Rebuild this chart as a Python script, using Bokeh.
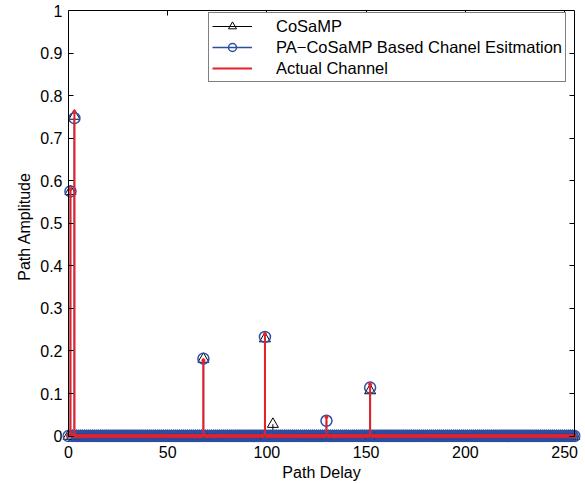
import numpy as np
from bokeh.plotting import figure
from bokeh.models import Range1d, LinearAxis, FixedTicker, Legend, LegendItem
from bokeh.embed import file_html
from bokeh.resources import INLINE

# ---- channel taps (path delay index -> amplitude) ----
n_taps = 256
delays = np.arange(n_taps)

actual_pos = [1, 3, 68, 99, 130, 152]
actual_amp = [0.58, 0.762, 0.178, 0.24, 0.045, 0.122]

cosamp_pos = [1, 3, 68, 99, 103, 152]
cosamp_amp = [0.575, 0.752, 0.181, 0.229, 0.028, 0.107]

pacosamp_pos = [1, 3, 68, 99, 130, 152]
pacosamp_amp = [0.575, 0.747, 0.182, 0.233, 0.036, 0.114]

x_ticks = [0, 50, 100, 150, 200, 250]
y_ticks = [0, 0.1, 0.2, 0.3, 0.4, 0.5, 0.6, 0.7, 0.8, 0.9, 1]
y_tick_labels = ["0", "0.1", "0.2", "0.3", "0.4", "0.5", "0.6", "0.7", "0.8", "0.9", "1"]

x_lim = (0, 255)
y_lim = (0, 1)

FONT = "Liberation Sans"
BLUE = "#2c4ea3"
RED = "#e8202a"


def sparse_response(pos, amp):
    h = np.zeros(n_taps)
    h[pos] = amp
    return h


h_actual = sparse_response(actual_pos, actual_amp)
h_cosamp = sparse_response(cosamp_pos, cosamp_amp)
h_pacosamp = sparse_response(pacosamp_pos, pacosamp_amp)

# the frame is a little larger than the axes box so that markers sitting on
# the box edges are drawn whole instead of being cut in half
p = figure(width=585, height=483,
           x_range=Range1d(x_lim[0] - 3, x_lim[1] + 3),
           y_range=Range1d(y_lim[0] - 0.015, y_lim[1]),
           output_backend="svg", toolbar_location=None,
           min_border_left=62, min_border_right=5, min_border_top=10, min_border_bottom=39)
p.xaxis.visible = False
p.yaxis.visible = False
p.grid.visible = False
p.outline_line_color = None
p.background_fill_color = "white"
p.border_fill_color = "white"


def make_axis(ticks, show_labels=True, show_line=True):
    ax = LinearAxis(ticker=FixedTicker(ticks=ticks))
    ax.major_tick_in = 5
    ax.major_tick_out = 0
    ax.minor_tick_line_color = None
    ax.axis_line_color = "black" if show_line else None
    ax.axis_line_width = 1
    ax.major_tick_line_color = "black" if show_line else None
    ax.major_tick_line_width = 1
    ax.major_label_text_font = FONT
    ax.major_label_text_font_size = "16px"
    ax.major_label_text_color = "black" if show_labels else None
    ax.axis_label_text_font = FONT
    ax.axis_label_text_font_style = "normal"
    ax.axis_label_text_font_size = "16px"
    ax.axis_label_text_color = "black"
    if not show_labels:
        ax.major_label_standoff = 0
    return ax


# box edges with inward ticks
left_box = make_axis(y_ticks, show_labels=False)
left_box.fixed_location = x_lim[0]
left_box.bounds = y_lim
p.add_layout(left_box, "left")

right_box = make_axis(y_ticks, show_labels=False)
right_box.fixed_location = x_lim[1]
right_box.bounds = y_lim
p.add_layout(right_box, "right")

top_box = make_axis(x_ticks, show_labels=False)
top_box.bounds = x_lim
p.add_layout(top_box, "above")

# tick labels and titles (the bottom box edge lies under the row of zero-valued markers)
bottom = make_axis(x_ticks, show_line=False)
bottom.axis_label = "Path Delay"
bottom.major_label_standoff = 3
bottom.axis_label_standoff = 3
p.add_layout(bottom, "below")

left = make_axis(y_ticks, show_line=False)
left.major_label_overrides = {t: s for t, s in zip(y_ticks, y_tick_labels)}
left.axis_label = "Path Amplitude"
left.major_label_standoff = 0
left.axis_label_standoff = 4
p.add_layout(left, "left")

# CoSaMP estimate: thin black stems with open triangles
cs_seg = p.segment(x0=delays, y0=0, x1=delays, y1=h_cosamp, line_color="black", line_width=1)
cs_pts = p.scatter(delays, h_cosamp, marker="triangle", size=11, fill_color=None,
                   line_color="black", line_width=1)

# PA-CoSaMP estimate: blue stems with open circles
pa_seg = p.segment(x0=delays, y0=0, x1=delays, y1=h_pacosamp, line_color=BLUE, line_width=1.5)
pa_pts = p.scatter(delays, h_pacosamp, marker="circle", size=11, fill_color=None,
                   line_color=BLUE, line_width=1.5)

# actual channel: red stems with dot markers
ac_seg = p.segment(x0=delays, y0=0, x1=delays, y1=h_actual, line_color=RED, line_width=2)
ac_pts = p.scatter(delays, h_actual, marker="circle", size=3.5, fill_color=RED,
                   line_color=RED, line_width=0.5)

legend = Legend(items=[
    LegendItem(label="CoSaMP", renderers=[cs_seg, cs_pts]),
    LegendItem(label="PA\u2212CoSaMP Based Chanel Esitmation", renderers=[pa_seg, pa_pts]),
    LegendItem(label="Actual Channel", renderers=[ac_seg]),
], location=(146, 360))
legend.margin = 0
legend.padding = 3
legend.spacing = 1
legend.glyph_width = 40
legend.glyph_height = 20
legend.label_height = 20
legend.label_standoff = 24
legend.label_text_font = FONT
legend.label_text_font_size = "16.5px"
legend.label_text_color = "black"
legend.border_line_color = "black"
legend.border_line_width = 1
legend.background_fill_color = "white"
legend.background_fill_alpha = 1
p.add_layout(legend)

open("out.html", "w").write(file_html(p, INLINE))
